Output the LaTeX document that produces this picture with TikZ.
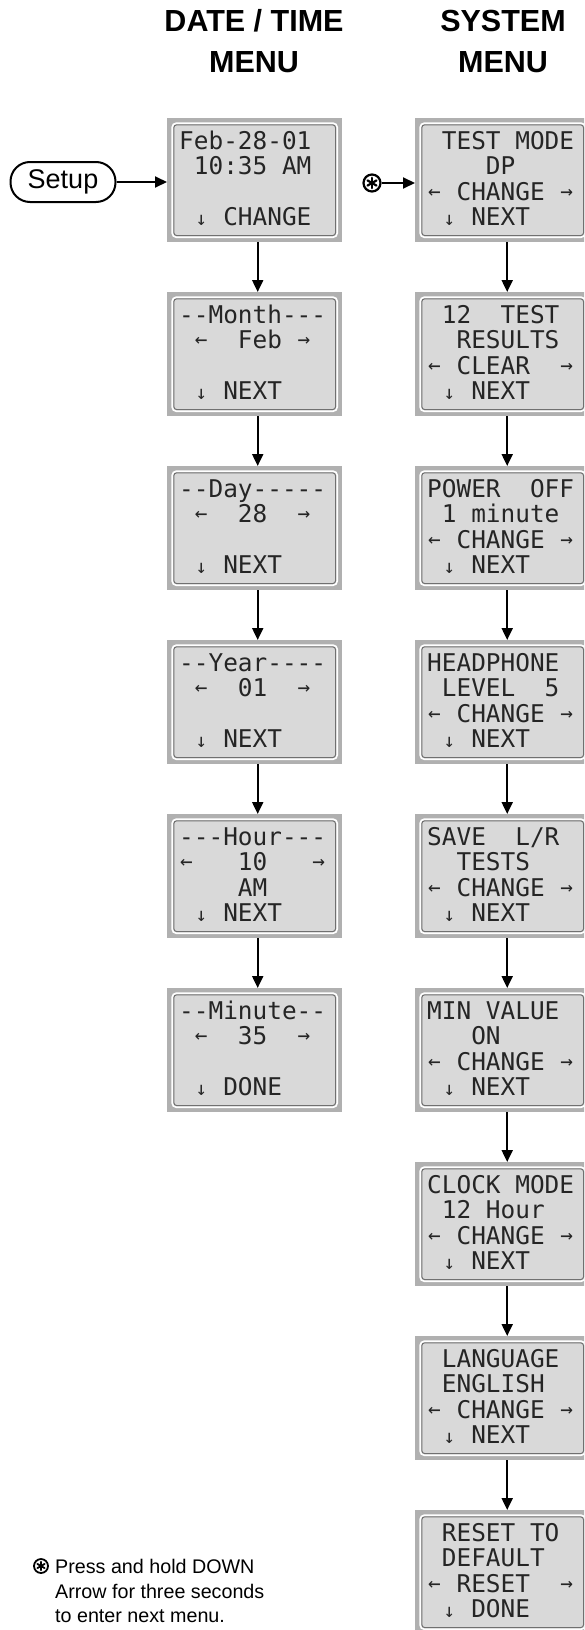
\documentclass[tikz,border=0pt]{standalone}
\usepackage{fontspec}
\setmainfont{Liberation Sans}
\newfontfamily\lcdfont{DejaVu Sans Mono}
\usetikzlibrary{arrows.meta,calc}
\definecolor{lcdouter}{HTML}{B0B0B0}
\definecolor{lcdinner}{HTML}{D9D9D9}
\definecolor{lcdline}{HTML}{707070}
\definecolor{lcdtext}{HTML}{252525}
\newcommand{\LA}{\makebox[14.69pt]{\raisebox{2pt}{\fontsize{21}{21}\selectfont ←}}}
\newcommand{\RA}{\makebox[14.69pt]{\raisebox{2pt}{\fontsize{21}{21}\selectfont →}}}
\newcommand{\DA}{\makebox[14.69pt]{\raisebox{0pt}{\fontsize{19}{19}\selectfont ↓}}}
\newcommand{\lcdbox}[7]{%
  \node[lcd, anchor=north west] (#1) at (#2,#3) {};
  \node[lcdtxt] (#1-1) at (#2+12,#3+31) {#4};
  \node[lcdtxt] (#1-2) at (#2+12,#3+56.5) {#5};
  \node[lcdtxt] (#1-3) at (#2+12,#3+82) {#6};
  \node[lcdtxt] (#1-4) at (#2+12,#3+107.5) {#7};
}
\begin{document}
\begin{tikzpicture}[x=1pt,y=-1pt,
  lcd/.style={rectangle, minimum width=175pt, minimum height=124pt, inner sep=0pt, fill=lcdouter,
    path picture={
      \draw[white, line width=1.6pt, rounded corners=4pt, fill=lcdinner]
        ([shift={(5pt,5pt)}]path picture bounding box.south west) rectangle
        ([shift={(-5pt,-5pt)}]path picture bounding box.north east);
      \draw[lcdline, line width=1pt, rounded corners=3pt]
        ([shift={(6.6pt,6.6pt)}]path picture bounding box.south west) rectangle
        ([shift={(-6.6pt,-6.6pt)}]path picture bounding box.north east);
    }},
  lcdtxt/.style={anchor=base west, inner sep=0pt, text=lcdtext, font=\lcdfont\fontsize{24.4}{24.4}\selectfont},
  conn/.style={line width=2pt, -{Triangle[length=12pt,width=11pt]}},
  titlefont/.style={anchor=base, inner sep=0pt, font=\fontsize{30.5}{36}\selectfont\bfseries},
  setupbox/.style={draw, line width=2pt, rounded corners=19.5pt, minimum width=105pt, minimum height=40pt, inner sep=0pt, font=\fontsize{27}{27}\selectfont},
  starsym/.style={circle, draw, line width=2.2pt, minimum size=17pt, inner sep=0pt},
  fnote/.style={anchor=base west, inner sep=0pt, font=\fontsize{19.7}{24}\selectfont}
]
\useasboundingbox (0,0) rectangle (584,1630);
\fill[white] (0,0) rectangle (584,1630);
\clip (0,0) rectangle (584,1630);

% titles
\node[titlefont] (tl1) at (254,31.7) {DATE / TIME};
\node[titlefont] (tl2) at (254,72.6) {MENU};
\node[titlefont] (tr1) at (503,31.7) {SYSTEM};
\node[titlefont] (tr2) at (503,72.6) {MENU};

% date / time column
\lcdbox{a0}{167}{118}{Feb-28-01}{~10:35~AM}{}{~\DA~CHANGE}
\lcdbox{a1}{167}{292}{--Month---}{~\LA~~Feb~\RA}{}{~\DA~NEXT}
\lcdbox{a2}{167}{466}{--Day-----}{~\LA~~28~~\RA}{}{~\DA~NEXT}
\lcdbox{a3}{167}{640}{--Year----}{~\LA~~01~~\RA}{}{~\DA~NEXT}
\lcdbox{a4}{167}{814}{---Hour---}{\LA~~~10~~~\RA}{~~~~AM}{~\DA~NEXT}
\lcdbox{a5}{167}{988}{--Minute--}{~\LA~~35~~\RA}{}{~\DA~DONE}

% system column
\lcdbox{b0}{415}{118}{~TEST~MODE}{~~~~DP}{\LA~CHANGE~\RA}{~\DA~NEXT}
\lcdbox{b1}{415}{292}{~12~~TEST}{~~RESULTS}{\LA~CLEAR~~\RA}{~\DA~NEXT}
\lcdbox{b2}{415}{466}{POWER~~OFF}{~1~minute}{\LA~CHANGE~\RA}{~\DA~NEXT}
\lcdbox{b3}{415}{640}{HEADPHONE}{~LEVEL~~5}{\LA~CHANGE~\RA}{~\DA~NEXT}
\lcdbox{b4}{415}{814}{SAVE~~L/R}{~~TESTS}{\LA~CHANGE~\RA}{~\DA~NEXT}
\lcdbox{b5}{415}{988}{MIN~VALUE}{~~~ON}{\LA~CHANGE~\RA}{~\DA~NEXT}
\lcdbox{b6}{415}{1162}{CLOCK~MODE}{~12~Hour}{\LA~CHANGE~\RA}{~\DA~NEXT}
\lcdbox{b7}{415}{1336}{~LANGUAGE}{~ENGLISH}{\LA~CHANGE~\RA}{~\DA~NEXT}
\lcdbox{b8}{415}{1510}{~RESET~TO}{~DEFAULT}{\LA~RESET~~\RA}{~\DA~DONE}

% connectors
\foreach \i/\j in {0/1,1/2,2/3,3/4,4/5}
  \draw[conn] ([xshift=3pt]a\i.south) -- ([xshift=3pt]a\j.north);
\foreach \i/\j in {0/1,1/2,2/3,3/4,4/5,5/6,6/7,7/8}
  \draw[conn] ([xshift=4.5pt]b\i.south) -- ([xshift=4.5pt]b\j.north);

% setup entry
\node[setupbox] (setup) at (63,182) {Setup};
\draw[conn] (setup.east) -- (setup.east -| a0.west);

% hold-down symbol entry
\node[starsym] (st) at (372,183) {};
\foreach \a in {90,30,150}
  \draw[line width=2.2pt, line cap=round] ($(st.center)+(\a:5.2pt)$) -- ($(st.center)+(\a+180:5.2pt)$);
\draw[conn] (st.east) -- (st.east -| b0.west);

% footnote
\node[starsym, minimum size=14pt, line width=1.8pt] (fst) at (41,1566) {};
\foreach \a in {90,30,150}
  \draw[line width=1.8pt, line cap=round] ($(fst.center)+(\a:4.2pt)$) -- ($(fst.center)+(\a+180:4.2pt)$);
\node[fnote] (fn1) at (55,1573) {Press and hold DOWN};
\node[fnote] (fn2) at (55,1598) {Arrow for three seconds};
\node[fnote] (fn3) at (55,1622) {to enter next menu.};
\end{tikzpicture}
\end{document}
